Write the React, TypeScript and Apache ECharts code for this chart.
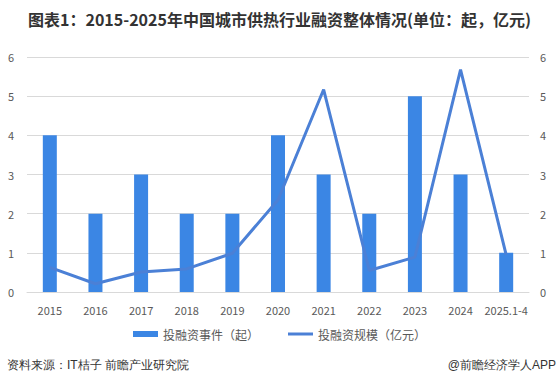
import React, { useEffect, useRef } from "react";
import * as echarts from "echarts";

const categories = ["2015", "2016", "2017", "2018", "2019", "2020", "2021", "2022", "2023", "2024", "2025.1-4"];
const eventCounts = [4, 2, 3, 2, 2, 4, 3, 2, 5, 3, 1];
const amounts = [0.63, 0.21, 0.51, 0.59, 0.99, 2.35, 5.17, 0.55, 0.89, 5.68, 0.95];
const barName = "投融资事件（起）";
const lineName = "投融资规模（亿元）";
const titleText = "图表1：2015-2025年中国城市供热行业融资整体情况(单位：起，亿元)";
const sourceText = "资料来源：IT桔子 前瞻产业研究院";
const brandText = "@前瞻经济学人APP";

const FONT = "'Noto Sans CJK SC', 'Noto Sans', sans-serif";

export default function App() {
  const ref = useRef<HTMLDivElement>(null);
  useEffect(() => {
    if (!ref.current) return;
    const chart = echarts.init(ref.current, undefined, { renderer: "svg" });
    const axisLabel = { color: "#595959", fontSize: 11, fontFamily: FONT };
    chart.setOption({
      animation: false,
      textStyle: { fontFamily: FONT },
      title: {
        text: titleText,
        left: "center",
        top: 6,
        textStyle: { fontSize: 16, fontWeight: "bold", color: "#333", fontFamily: FONT },
      },
      grid: { left: 27, right: 30, top: 57, bottom: 97, containLabel: false },
      legend: {
        bottom: 44,
        left: "center",
        itemGap: 29,
        itemWidth: 25,
        itemHeight: 6,
        textStyle: { color: "#595959", fontSize: 12, fontFamily: FONT },
        data: [
          { name: barName, icon: "rect" },
          { name: lineName, icon: "path://M0,0H25V3H0Z", itemStyle: { color: "#4b80d6" } },
        ],
      },
      xAxis: {
        type: "category",
        data: categories,
        axisTick: { show: false },
        axisLine: { show: true, lineStyle: { color: "#d9d9d9" } },
        axisLabel: { ...axisLabel, margin: 12, interval: 0 },
      },
      yAxis: [
        {
          type: "value",
          min: 0,
          max: 6,
          interval: 1,
          axisLabel: { ...axisLabel, margin: 13 },
          splitLine: { lineStyle: { color: "#d9d9d9" } },
          axisLine: { show: false },
        },
        {
          type: "value",
          min: 0,
          max: 6,
          interval: 1,
          axisLabel: { ...axisLabel, margin: 11 },
          splitLine: { show: false },
          axisLine: { show: false },
        },
      ],
      series: [
        {
          name: barName,
          type: "bar",
          data: eventCounts,
          barWidth: 14,
          itemStyle: { color: "#3b86e4" },
        },
        {
          name: lineName,
          type: "line",
          yAxisIndex: 1,
          data: amounts,
          symbol: "none",
          lineStyle: { color: "#4b80d6", width: 3 },
          itemStyle: { color: "#4b80d6" },
        },
      ],
      graphic: [
        {
          type: "text",
          left: 7,
          top: 359,
          style: { text: sourceText, fontSize: 12, fill: "#333", font: `12px ${FONT}` },
        },
        {
          type: "text",
          right: 3,
          top: 359,
          style: { text: brandText, fontSize: 12, fill: "#333", font: `12px ${FONT}` },
        },
      ],
    });
    return () => chart.dispose();
  }, []);
  return <div ref={ref} style={{ width: 559, height: 389, position: "absolute", left: 0, top: 0 }} />;
}
